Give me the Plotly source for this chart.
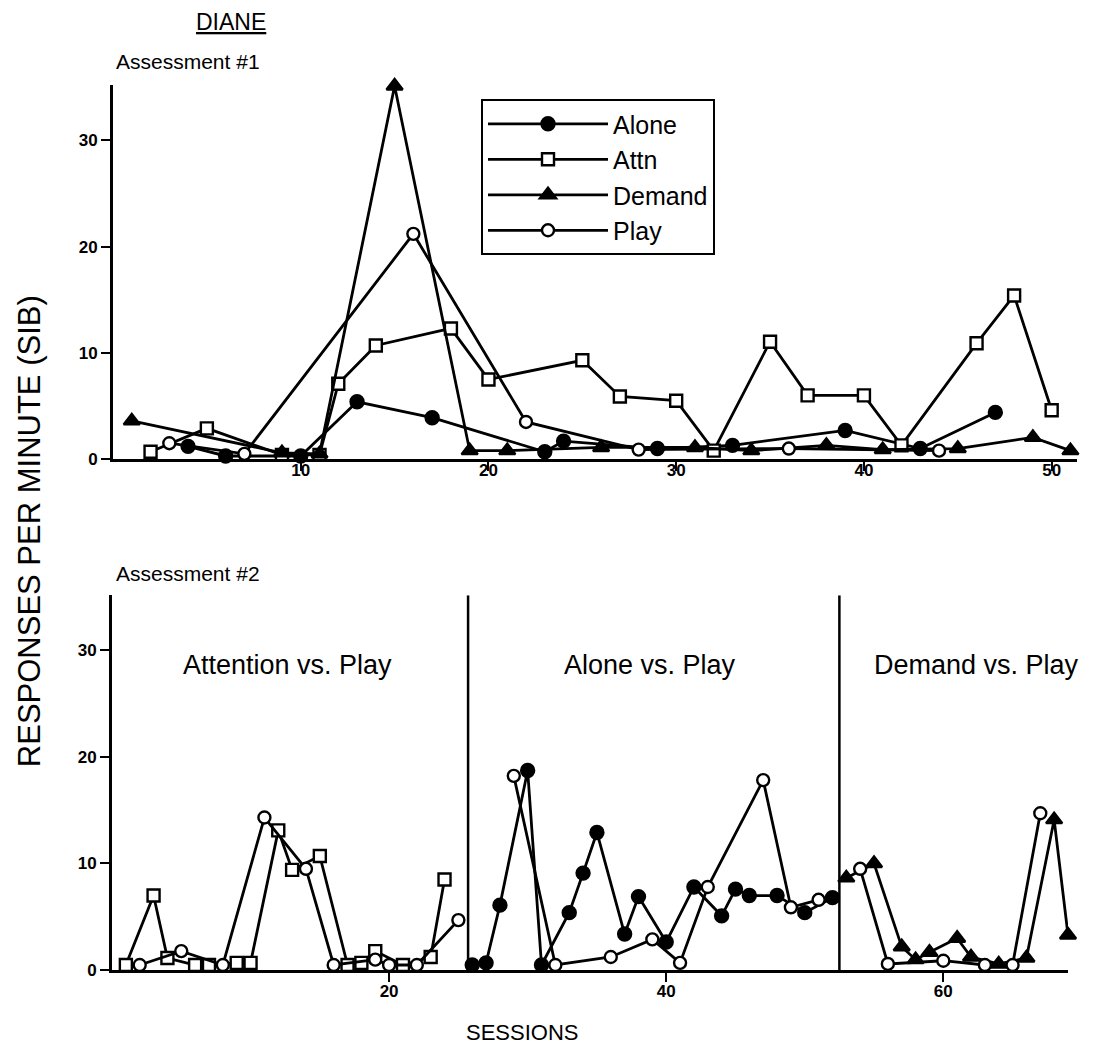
import plotly.graph_objects as go

# ---------------- DATA ----------------
# Assessment #1 (top panel)
top_alone_x = [4, 6, 10, 13, 17, 23, 24, 29, 33, 39, 43, 47]
top_alone_y = [1.2, 0.3, 0.3, 5.4, 3.9, 0.7, 1.7, 1.0, 1.3, 2.7, 1.0, 4.4]

top_attn_x = [2, 5, 9, 11, 12, 14, 18, 20, 25, 27, 30, 32, 35, 37, 40, 42, 46, 48, 50]
top_attn_y = [0.7, 2.9, 0.4, 0.4, 7.1, 10.7, 12.3, 7.5, 9.3, 5.9, 5.5, 0.8, 11.05, 6.0, 6.0, 1.3, 10.9, 15.4, 4.6]

top_demand_x = [1, 9, 11, 15, 19, 21, 26, 31, 34, 38, 41, 45, 49, 51]
top_demand_y = [3.6, 0.6, 0.5, 35.1, 0.8, 0.8, 1.1, 1.1, 0.8, 1.3, 0.9, 1.0, 2.05, 0.8]

top_play_x = [3, 7, 16, 22, 28, 36, 44]
top_play_y = [1.5, 0.5, 21.2, 3.5, 0.9, 1.0, 0.8]

# Assessment #2 (bottom panel)
bot_attn_x = [1, 3, 4, 6, 7, 9, 10, 12, 13, 15, 17, 18, 19, 21, 23, 24]
bot_attn_y = [0.5, 7.0, 1.15, 0.5, 0.5, 0.7, 0.7, 13.1, 9.4, 10.7, 0.5, 0.7, 1.8, 0.5, 1.25, 8.5]

bot_play1_x = [2, 5, 8, 11, 14, 16, 19, 20, 22, 25]
bot_play1_y = [0.5, 1.8, 0.5, 14.3, 9.5, 0.5, 1.0, 0.5, 0.5, 4.7]
bot_play2_x = [29, 32, 36, 39, 41, 43, 47, 49, 51]
bot_play2_y = [18.2, 0.5, 1.25, 2.9, 0.7, 7.8, 17.8, 5.9, 6.6]
bot_play3_x = [54, 56, 60, 63, 65, 67]
bot_play3_y = [9.5, 0.6, 0.9, 0.5, 0.5, 14.7]

bot_alone_x = [26, 27, 28, 30, 31, 33, 34, 35, 37, 38, 40, 42, 44, 45, 46, 48, 50, 52]
bot_alone_y = [0.5, 0.7, 6.1, 18.7, 0.5, 5.4, 9.1, 12.9, 3.4, 6.9, 2.65, 7.8, 5.1, 7.6, 7.0, 7.0, 5.4, 6.8]

bot_demand_x = [53, 55, 57, 58, 59, 61, 62, 64, 66, 68, 69]
bot_demand_y = [8.65, 10.0, 2.2, 1.0, 1.7, 3.0, 1.25, 0.6, 1.15, 14.1, 3.3]

phase_change_sessions = [25.7, 52.5]
phase_labels = ["Attention vs. Play", "Alone vs. Play", "Demand vs. Play"]
phase_label_x = [12.7, 38.8, 62.4]

top_xticks = [10, 20, 30, 40, 50]
bot_xticks = [20, 40, 60]
yticks = [0, 10, 20, 30]

# ---------------- FIGURE ----------------
FONT = "Liberation Sans, Arial, sans-serif"
OFF = 8                      # default page body margin
W, H = 1094 - 2 * OFF, 1053 - 2 * OFF
YS = 0.99                    # empirical vertical scale of the snapshot


def PX(px):
    return (px - OFF) / W


def PY(py):
    return 1 - ((py - OFF) / YS) / H


fig = go.Figure()

styles = {
    "Alone": dict(symbol="circle", color="black", size=13),
    "Attn": dict(symbol="square", color="white", size=12),
    "Demand": dict(symbol="triangle-up", color="black", size=14),
    "Play": dict(symbol="circle", color="white", size=12),
}


def add(x, y, name, xa, ya, show):
    s = styles[name]
    fig.add_trace(go.Scatter(
        x=x, y=y, mode="lines+markers", name=name,
        line=dict(color="black", width=2.8),
        marker=dict(symbol=s["symbol"], size=s["size"], color=s["color"],
                    line=dict(color="black", width=2.4)),
        xaxis=xa, yaxis=ya, showlegend=show, cliponaxis=False,
    ))


add(top_alone_x, top_alone_y, "Alone", "x", "y", True)
add(top_attn_x, top_attn_y, "Attn", "x", "y", True)
add(top_demand_x, top_demand_y, "Demand", "x", "y", True)
add(top_play_x, top_play_y, "Play", "x", "y", True)

play_x = bot_play1_x + [None] + bot_play2_x + [None] + bot_play3_x
play_y = bot_play1_y + [None] + bot_play2_y + [None] + bot_play3_y
add(bot_attn_x, bot_attn_y, "Attn", "x2", "y2", False)
add(bot_alone_x, bot_alone_y, "Alone", "x2", "y2", False)
add(bot_demand_x, bot_demand_y, "Demand", "x2", "y2", False)
add(play_x, play_y, "Play", "x2", "y2", False)

axis_common = dict(showline=True, linecolor="black", linewidth=3, ticks="outside",
                   ticklen=9, tickwidth=2, tickcolor="black", showgrid=False,
                   zeroline=False,
                   tickfont=dict(family=FONT, size=17, color="black", weight="bold"))

fig.update_layout(
    width=W, height=H, margin=dict(l=0, r=0, t=0, b=0),
    paper_bgcolor="white", plot_bgcolor="white",
    xaxis=dict(domain=[PX(113), PX(1077)], range=[0, 51.35], tickvals=top_xticks,
               anchor="y", ticklabelstandoff=-16, **axis_common),
    yaxis=dict(domain=[PY(459), PY(85)], range=[0, 35.2], tickvals=yticks,
               anchor="x", **axis_common),
    xaxis2=dict(domain=[PX(112), PX(1068)], range=[0, 69.0], tickvals=bot_xticks,
                anchor="y2", ticklabelstandoff=-6, **axis_common),
    yaxis2=dict(domain=[PY(970), PY(595)], range=[0, 35.1], tickvals=yticks,
                anchor="x2", **axis_common),
    legend=dict(x=PX(481), y=PY(99), xanchor="left", yanchor="top",
                bordercolor="black", borderwidth=2, bgcolor="white",
                font=dict(family=FONT, size=25, color="black"),
                itemwidth=120, tracegroupgap=0),
    font=dict(family=FONT, color="black"),
    showlegend=True,
)

for xv in phase_change_sessions:
    fig.add_shape(type="line", xref="x2", yref="y2", x0=xv, x1=xv, y0=0, y1=35.1,
                  line=dict(color="black", width=2.5))

for lbl, lx in zip(phase_labels, phase_label_x):
    fig.add_annotation(x=lx, y=28.6, xref="x2", yref="y2", text=lbl, showarrow=False,
                       font=dict(family=FONT, size=27, color="black"))

fig.add_annotation(x=PX(194), y=PY(22), xref="paper", yref="paper", xanchor="left",
                   yanchor="middle", text="<u>DIANE</u>", showarrow=False,
                   font=dict(family=FONT, size=23, color="black"))
fig.add_annotation(x=PX(114), y=PY(61), xref="paper", yref="paper", xanchor="left",
                   yanchor="middle", text="Assessment #1", showarrow=False,
                   font=dict(family=FONT, size=21, color="black"))
fig.add_annotation(x=PX(114), y=PY(573), xref="paper", yref="paper", xanchor="left",
                   yanchor="middle", text="Assessment #2", showarrow=False,
                   font=dict(family=FONT, size=21, color="black"))
fig.add_annotation(x=PX(29), y=PY(531), xref="paper", yref="paper",
                   xanchor="center", yanchor="middle",
                   text="RESPONSES PER MINUTE (SIB)", textangle=-90, showarrow=False,
                   font=dict(family=FONT, size=31, color="black"))
fig.add_annotation(x=PX(522), y=PY(1032), xref="paper", yref="paper",
                   xanchor="center", yanchor="middle",
                   text="SESSIONS", showarrow=False,
                   font=dict(family=FONT, size=22, color="black"))

fig.write_html("out.html")
